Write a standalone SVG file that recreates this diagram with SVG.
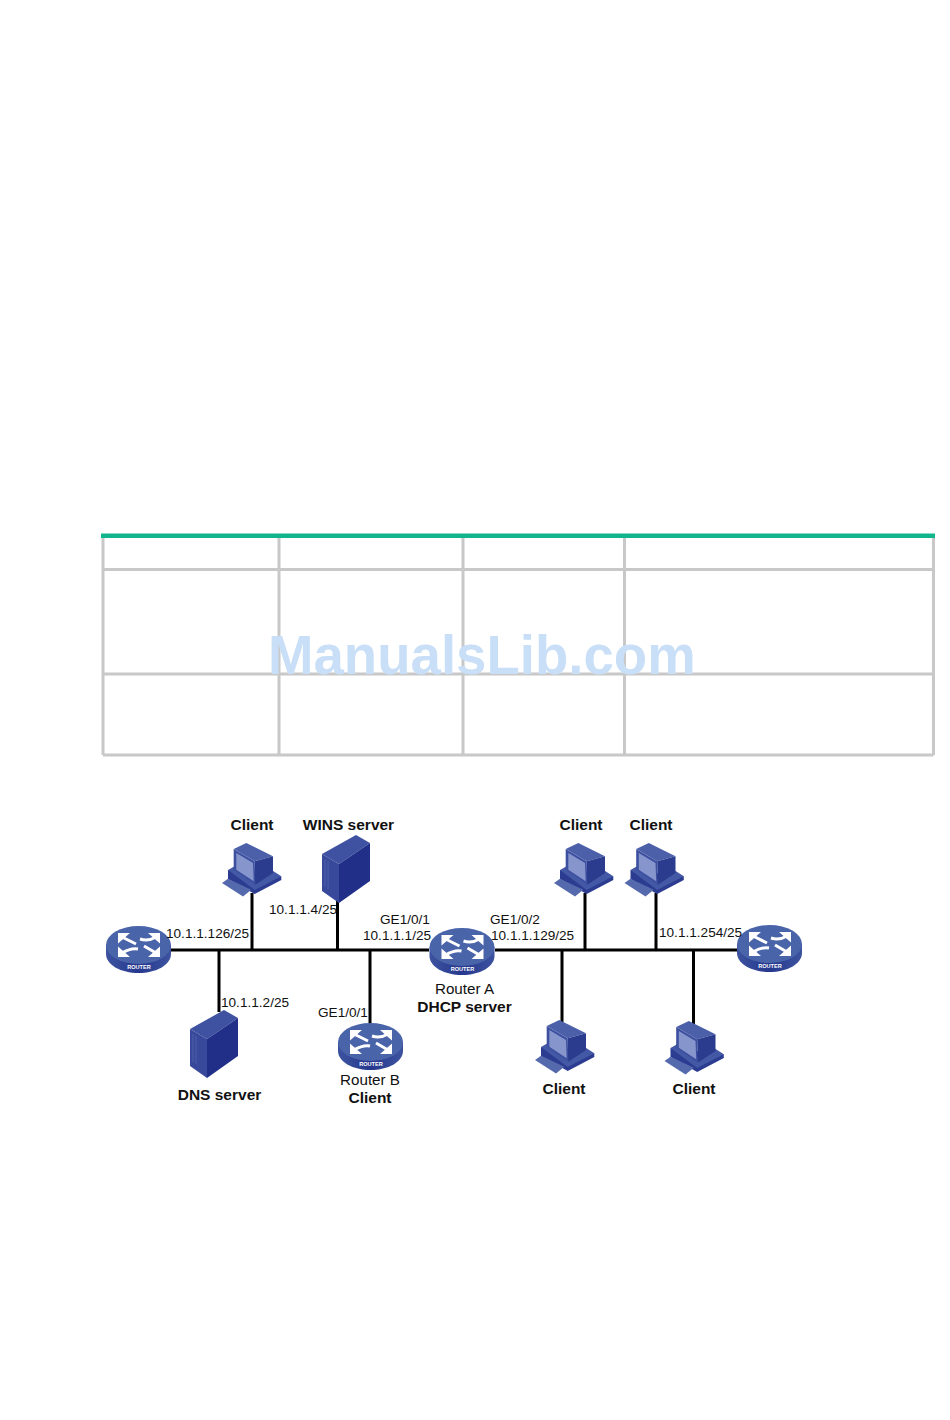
<svg xmlns="http://www.w3.org/2000/svg" width="950" height="1420" viewBox="0 0 950 1420">
<style>
text{font-family:"Liberation Sans",Arial,sans-serif;fill:#111}
.b{font-size:15.5px;font-weight:bold;text-anchor:middle}
.n{font-size:13.6px}
.c{font-size:15.2px;text-anchor:middle}
.w{font-size:54.6px;font-weight:bold;fill:#c9dff7}
.r{font-size:5.6px;font-weight:bold;fill:#fff;text-anchor:middle}
.grid{stroke:#c8c8c8;stroke-width:3;fill:none}
.link{stroke:#000;stroke-width:3;fill:none}
.ar{stroke:#fff;stroke-width:3;fill:none}
.ah{fill:#fff}
</style>
<defs>
<linearGradient id="rs" x1="0" x2="1" y1="0" y2="0"><stop offset="0" stop-color="#3d539f"/><stop offset=".5" stop-color="#26388e"/><stop offset="1" stop-color="#3d539f"/></linearGradient>
<g id="router">
<path d="M0 19V28C0 39 15 47 32.500 47S65 39 65 28V19Z" fill="url(#rs)"/>
<ellipse cx="32.500" cy="19" rx="32.500" ry="19" fill="#4a64aa"/>
<path class="ar" d="M16 11 30 18M50 11 C45 14 40 15 34 13M16 27 C21 24 27 22 32 23M50 27 38 20"/>
<path class="ah" d="M12 7H24L12 17.500ZM54 7H42L54 17.500ZM12 31H24L12 20.500ZM54 31H42L54 20.500Z"/>
<text class="r" x="33" y="43">ROUTER</text>
</g>
<g id="pc">
<path d="M6 27 59.300 33.300V37L32.700 51 6 36Z" fill="#2c3c90"/>
<path d="M6 27 13 23 33 36 48 26 59.300 33.300 32.700 47Z" fill="#4459a5"/>
<path d="M0 40 6 35.700 29.300 46.700 21 53.500Z" fill="#5569ad"/>
<path d="M11.700 6 32.700 18.300 33.300 41.700 11.700 26.700Z" fill="#3d50a0"/>
<path d="M11.700 6 24.300 0 51 13.300 32.700 18.300Z" fill="#4c60aa"/>
<path d="M32.700 18.300 51 13.300V30L33.300 41.700Z" fill="#2b3c8e"/>
<path d="M14.300 10 31 20 31.700 38.300 14.300 26.700Z" fill="#8795cd"/>
</g>
<g id="server">
<path d="M0 19 34 0 48 8 17 29Z" fill="#3f52a2"/>
<path d="M0 19 17 29V68L0 56Z" fill="#38499b"/>
<path d="M17 29 48 8V46L17 68Z" fill="#222f88"/>
<path d="M3 24V52M6 26V54" stroke="#5468ad" stroke-width=".8" fill="none"/>
</g>
</defs>
<rect width="950" height="1420" fill="#fff"/>
<g id="table">
<path class="grid" d="M103 537V755M279 537V755M463 537V755M624.500 537V755M933.500 537V755M103 569.500H933.500M103 674H933.500M103 755H933.500"/>
<rect x="101" y="533.500" width="834" height="4.500" fill="#0fb58c"/>
</g>
<text id="watermark" class="w" x="268" y="674">ManualsLib.com</text>
<g id="connectors">
<path class="link" d="M171 950H429M495 950H737M252 893V950M219 950V1012M337.500 900V950M370 950V1025M585 893V950M656 893V950M562 950V1022M693.500 950V1024"/>
</g>
<g id="router-left"><use href="#router" x="106" y="926"/><text class="n" x="166" y="938">10.1.1.126/25</text></g>
<g id="router-a"><use href="#router" x="429.500" y="928"/><text class="n" x="380" y="924">GE1/0/1</text><text class="n" x="363" y="940">10.1.1.1/25</text><text class="n" x="490" y="924">GE1/0/2</text><text class="n" x="491" y="940">10.1.1.129/25</text><text class="c" x="464.500" y="994">Router A</text><text class="b" x="464.500" y="1012">DHCP server</text></g>
<g id="router-b"><use href="#router" x="338" y="1023"/><text class="n" x="318" y="1017">GE1/0/1</text><text class="c" x="370" y="1085">Router B</text><text class="b" x="370" y="1103">Client</text></g>
<g id="router-right"><use href="#router" x="737" y="925"/><text class="n" x="659" y="937">10.1.1.254/25</text></g>
<g id="client-1"><use href="#pc" x="222" y="843"/><text class="b" x="252" y="830">Client</text></g>
<g id="wins-server"><use href="#server" x="322" y="835"/><text class="b" x="348.500" y="830">WINS server</text><text class="n" x="269" y="914">10.1.1.4/25</text></g>
<g id="dns-server"><use href="#server" x="190" y="1010"/><text class="b" x="219.500" y="1100">DNS server</text><text class="n" x="221" y="1007">10.1.1.2/25</text></g>
<g id="client-2"><use href="#pc" x="554" y="843"/><text class="b" x="581" y="830">Client</text></g>
<g id="client-3"><use href="#pc" x="624.500" y="843"/><text class="b" x="651" y="830">Client</text></g>
<g id="client-4"><use href="#pc" x="535" y="1020"/><text class="b" x="564" y="1094">Client</text></g>
<g id="client-5"><use href="#pc" x="664.500" y="1021"/><text class="b" x="694" y="1094">Client</text></g>
</svg>
